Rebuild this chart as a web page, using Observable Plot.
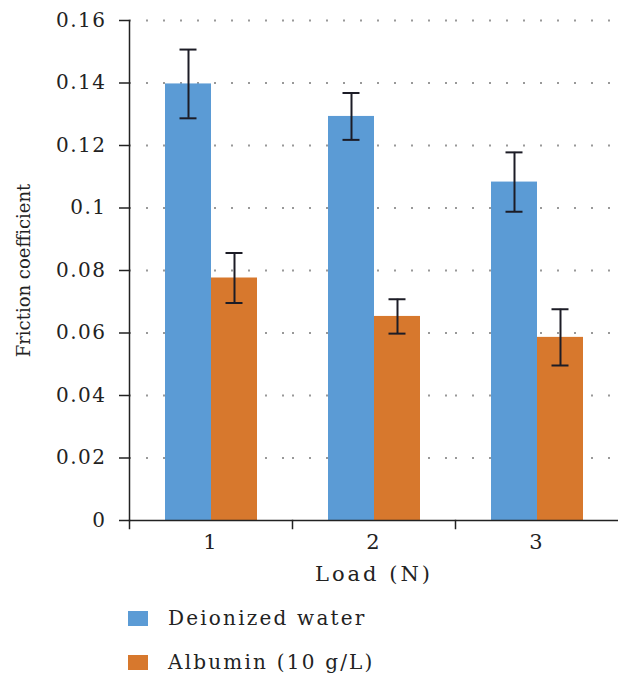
<!DOCTYPE html>
<html><head><meta charset="utf-8">
<script src="https://cdn.jsdelivr.net/npm/d3@7"></script>
<script src="https://cdn.jsdelivr.net/npm/@observablehq/plot@0.6"></script>
<style>
body{margin:0;background:#fff;font-family:"DejaVu Serif",serif;}
.row{height:44px;display:flex;align-items:center;padding-left:128px;font-size:20px;letter-spacing:2.2px;color:#222;}
.sw{width:20px;height:15px;margin-right:20px;}
g[aria-label="y-axis tick label"] text{letter-spacing:1.5px;}
g[aria-label="fx-axis tick label"] text{letter-spacing:2px;}
g[aria-label="fx-axis label"] text{letter-spacing:3px;}
</style></head><body>
<div id="chart"></div>
<div id="legend"></div>
<script>
const loads = ["1", "2", "3"];
const seriesNames = ["Deionized water", "Albumin (10 g/L)"];
const waterValues = [0.1397, 0.1293, 0.1083];
const waterErrors = [0.011, 0.0075, 0.0095];
const albuminValues = [0.0776, 0.0653, 0.0586];
const albuminErrors = [0.008, 0.0055, 0.009];
const yTicks = [0, 0.02, 0.04, 0.06, 0.08, 0.1, 0.12, 0.14, 0.16];
const colors = ["#5B9BD5", "#D7782D"];

const data = loads.flatMap((l, i) => [
  {load: l, series: seriesNames[0], value: waterValues[i], err: waterErrors[i]},
  {load: l, series: seriesNames[1], value: albuminValues[i], err: albuminErrors[i]}
]);

const ink = "#1c1c26";
const chart = Plot.plot({
  width: 619, height: 596,
  marginTop: 20, marginBottom: 76, marginLeft: 128, marginRight: 0,
  style: {fontFamily: "DejaVu Serif", fontSize: "19px", color: "#222", background: "#fff", overflow: "visible"},
  fx: {domain: loads, padding: 0},
  x: {domain: seriesNames, paddingInner: 0, paddingOuter: 0.74},
  y: {domain: [0, 0.16]},
  color: {domain: seriesNames, range: colors},
  marks: [
    Plot.ruleY(yTicks.filter(d => d > 0), {stroke: "#999", strokeWidth: 2, strokeDasharray: "2,15"}),
    Plot.barY(data, {fx: "load", x: "series", y: "value", fill: "series"}),
    Plot.ruleX(data, {fx: "load", x: "series", y1: d => d.value - d.err, y2: d => d.value + d.err, stroke: ink, strokeWidth: 2}),
    Plot.tickY(data, {fx: "load", x: "series", y: d => d.value + d.err, stroke: ink, strokeWidth: 2, insetLeft: 14.5, insetRight: 14.5}),
    Plot.tickY(data, {fx: "load", x: "series", y: d => d.value - d.err, stroke: ink, strokeWidth: 2, insetLeft: 14.5, insetRight: 14.5}),
    Plot.ruleY([0], {stroke: "#222", strokeWidth: 1.5}),
    Plot.frame({anchor: "left", insetTop: 500, insetBottom: -8, stroke: "#222", strokeWidth: 1.5}),
    Plot.frame({anchor: "left", facet: "super", stroke: "#222", strokeWidth: 1.5}),
    Plot.axisY({ticks: yTicks, tickFormat: d => String(d), tickSize: 10, tickPadding: 13, stroke: "#222", strokeWidth: 1.5,
      label: null, fontSize: 20}),
    Plot.axisY({ticks: [], tickSize: 0, label: "Friction coefficient", labelArrow: "none", labelAnchor: "center", labelOffset: 112, fontSize: 18}),
    Plot.axisFx({anchor: "bottom", tickSize: 0, tickPadding: 14, label: "Load (N)", labelAnchor: "center", labelOffset: 60, fontSize: 21}),
    Plot.axisX({ticks: [], label: null})
  ]
});
document.getElementById("chart").appendChild(chart);

const legend = document.getElementById("legend");
seriesNames.forEach((name, i) => {
  const row = document.createElement("div");
  row.className = "row";
  const sw = document.createElement("div");
  sw.className = "sw";
  sw.style.background = colors[i];
  const t = document.createElement("span");
  t.textContent = name;
  row.appendChild(sw); row.appendChild(t);
  legend.appendChild(row);
});
</script>
</body></html>
